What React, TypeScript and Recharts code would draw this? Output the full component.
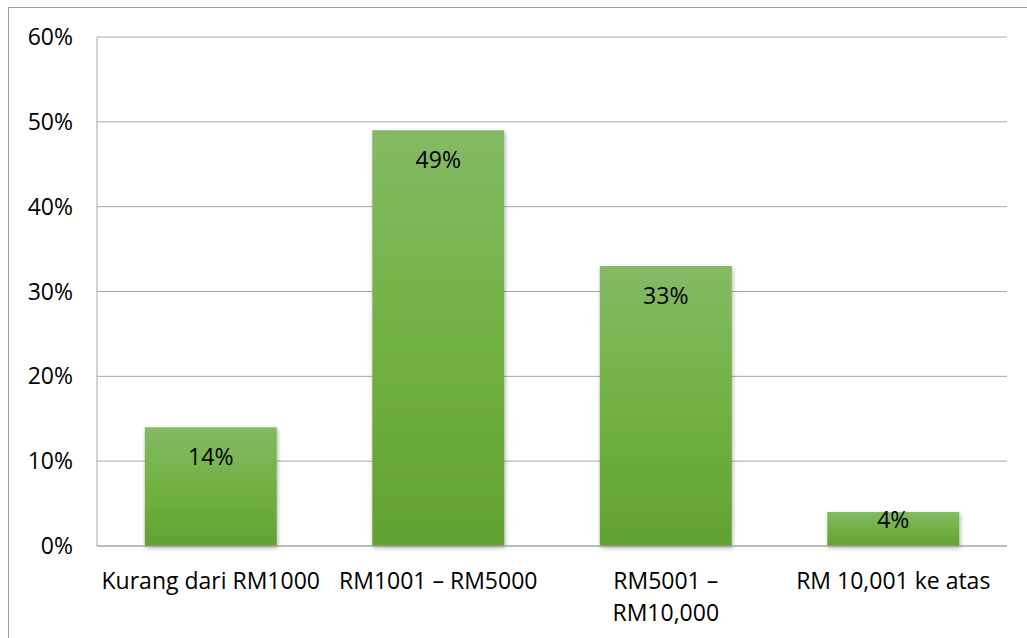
import React from 'react';
import { Bar, BarChart, CartesianGrid, LabelList, XAxis, YAxis } from 'recharts';

const categories = ['Kurang dari RM1000', 'RM1001 – RM5000', 'RM5001 –\nRM10,000', 'RM 10,001 ke atas'];
const shares = [14, 49, 33, 4];
const yTicks = [0, 10, 20, 30, 40, 50, 60];

const data = categories.map((name, i) => ({ name, value: shares[i] }));

const FONT = '"Open Sans", sans-serif';
const FS = 23;

const CategoryTick = (props: any) => {
  const { x, y, payload } = props;
  const lines = String(payload.value).split('\n');
  return (
    <g>
      {lines.map((line, i) => (
        <text
          key={i}
          x={x}
          y={y + 35 + i * 32}
          textAnchor="middle"
          fontSize={FS}
          fontFamily={FONT}
          fill="#000"
        >
          {line}
        </text>
      ))}
    </g>
  );
};

const ValueLabel = (props: any) => {
  const { x, y, width, height, value } = props;
  const cy = height > 60 ? y + 38 : y + 16;
  return (
    <text x={x + width / 2} y={cy} textAnchor="middle" fontSize={FS} fontFamily={FONT} fill="#000">
      {value}%
    </text>
  );
};

export default function App() {
  return (
    <div style={{ position: 'absolute', left: 0, top: 0, width: 1027, height: 638, background: '#fff', overflow: 'hidden' }}>
      <div
        style={{
          position: 'absolute',
          left: 8,
          top: 7,
          width: 1040,
          height: 650,
          border: '1px solid #a0a0a0',
        }}
      />
      <BarChart
        width={1027}
        height={638}
        data={data}
        margin={{ top: 37, right: 20, left: 0, bottom: 0 }}
        barCategoryGap="21%"
        style={{ position: 'absolute', left: 0, top: 0 }}
      >
        <defs>
          <linearGradient id="barFill" x1="0" y1="0" x2="0" y2="1">
            <stop offset="0%" stopColor="#84ba65" />
            <stop offset="50%" stopColor="#72b143" />
            <stop offset="100%" stopColor="#62a133" />
          </linearGradient>
          <filter id="barShadow" x="-10%" y="-10%" width="125%" height="125%">
            <feDropShadow dx="1" dy="2" stdDeviation="2" floodColor="#000" floodOpacity="0.3" />
          </filter>
        </defs>
        <CartesianGrid vertical={false} stroke="#a6a6a6" />
        <XAxis
          dataKey="name"
          height={92}
          axisLine={{ stroke: '#a6a6a6' }}
          tickLine={false}
          tick={<CategoryTick />}
          interval={0}
        />
        <YAxis
          width={97}
          domain={[0, 60]}
          ticks={yTicks}
          tickFormatter={(v: number) => `${v}%`}
          axisLine={{ stroke: '#a6a6a6' }}
          tickLine={false}
          tickSize={0}
          tickMargin={24}
          tick={{ fontSize: FS, fontFamily: FONT, fill: '#000' }}
        />
        <Bar dataKey="value" fill="url(#barFill)" filter="url(#barShadow)" isAnimationActive={false}>
          <LabelList dataKey="value" content={<ValueLabel />} />
        </Bar>
      </BarChart>
    </div>
  );
}
